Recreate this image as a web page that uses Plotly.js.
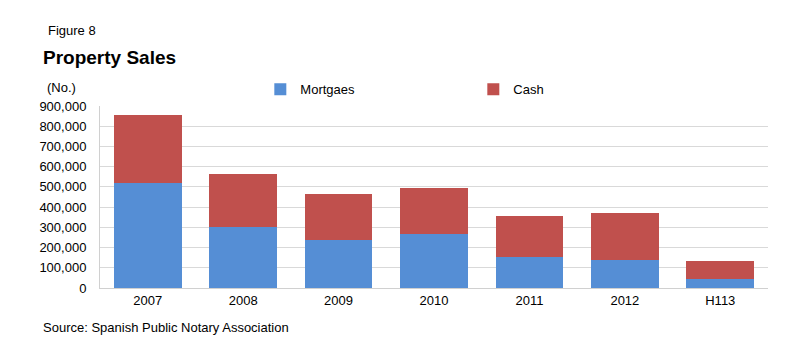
<!DOCTYPE html>
<html>
<head>
<meta charset="utf-8">
<script src="https://cdn.plot.ly/plotly-3.0.1.min.js"></script>
<style>html,body{margin:0;padding:0;background:#fff;}#chart{width:809px;height:356px;}</style>
</head>
<body>
<div id="chart"></div>
<script>
const categories = ["2007", "2008", "2009", "2010", "2011", "2012", "H113"];
const mortgages = [519000, 301000, 236000, 266000, 155000, 137000, 43000];
const cash = [335000, 264000, 228000, 231000, 200000, 233000, 93000];
const yTickVals = [0, 100000, 200000, 300000, 400000, 500000, 600000, 700000, 800000, 900000];
const yTickText = ["0", "100,000", "200,000", "300,000", "400,000", "500,000", "600,000", "700,000", "800,000", "900,000"];

const font = "Liberation Sans, Arial, Helvetica, sans-serif";

const traces = [
  {type: "bar", name: "Mortgaes", x: categories, y: mortgages, marker: {color: "#558ED5"}, hoverinfo: "none"},
  {type: "bar", name: "Cash", x: categories, y: cash, marker: {color: "#C0504D"}, hoverinfo: "none"}
];

const layout = {
  width: 809, height: 356,
  margin: {l: 100, r: 41, t: 106, b: 68},
  paper_bgcolor: "#fff", plot_bgcolor: "#fff",
  barmode: "stack",
  bargap: 0.29,
  font: {family: font, size: 13, color: "#000"},
  showlegend: true,
  legend: {
    orientation: "h", x: 0.24, xanchor: "left", y: 1.01, yanchor: "bottom",
    entrywidth: 168, entrywidthmode: "pixels",
    font: {family: font, size: 13, color: "#000"},
    itemwidth: 30, traceorder: "normal", bgcolor: "rgba(0,0,0,0)"
  },
  xaxis: {
    type: "category", showgrid: false, showline: true, linecolor: "#d0d0d0", linewidth: 1,
    ticks: "", tickfont: {family: font, size: 13, color: "#000"}, fixedrange: true
  },
  yaxis: {
    range: [0, 900000], tickvals: yTickVals, ticktext: yTickText,
    showgrid: true, gridcolor: "#d9d9d9", gridwidth: 1,
    showline: true, linecolor: "#d0d0d0", linewidth: 1, zeroline: false,
    ticks: "", ticklabelstandoff: 10,
    tickfont: {family: font, size: 13, color: "#000"}, fixedrange: true
  },
  annotations: [
    {text: "Figure 8", xref: "paper", yref: "paper", x: -0.081, y: 1.0, xanchor: "left", yanchor: "middle",
     showarrow: false, font: {family: font, size: 13, color: "#000"}},
    {text: "<b>Property Sales</b>", xref: "paper", yref: "paper", x: -0.088, y: 1.0, xanchor: "left", yanchor: "middle",
     showarrow: false, font: {family: font, size: 19, color: "#000"}},
    {text: "(No.)", xref: "paper", yref: "paper", x: -0.083, y: 1.0, xanchor: "left", yanchor: "middle",
     showarrow: false, font: {family: font, size: 13, color: "#000"}},
    {text: "Source: Spanish Public Notary Association", xref: "paper", yref: "paper", x: -0.088, y: 0, xanchor: "left", yanchor: "middle",
     showarrow: false, font: {family: font, size: 13, color: "#000"}}
  ]
};
const plotTop = 106, plotH = 356 - 106 - 68;
function py(pix) { return (plotTop + plotH - pix) / plotH; }
layout.annotations[0].y = py(31);
layout.annotations[1].y = py(57);
layout.annotations[2].y = py(88);
layout.annotations[3].y = py(327);

Plotly.newPlot("chart", traces, layout, {displayModeBar: false, staticPlot: true});
</script>
</body>
</html>
